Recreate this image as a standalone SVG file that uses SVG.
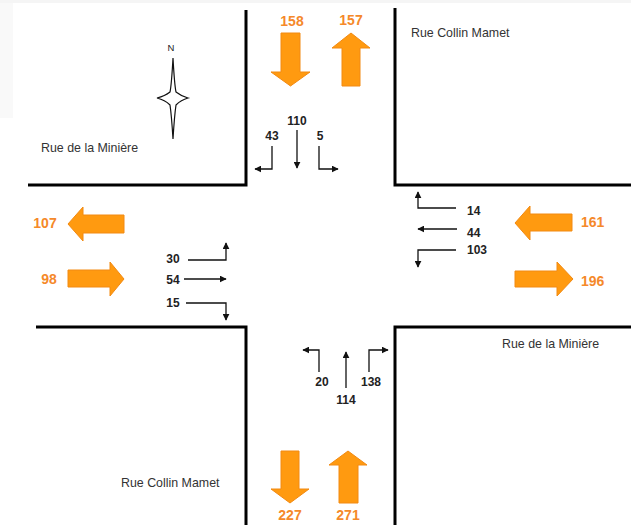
<svg xmlns="http://www.w3.org/2000/svg" width="631" height="525" viewBox="0 0 631 525">
<style>
.road{fill:none;stroke:#000;stroke-width:3}
.big{fill:#FF9A10;stroke:#F28A12;stroke-width:1}
.bl{font-family:"Liberation Sans",Arial,sans-serif;font-weight:bold;font-size:14px;fill:#F5892A}
.sl{font-family:"Liberation Sans",Arial,sans-serif;font-weight:bold;font-size:12px;fill:#222}
.st{font-family:"Liberation Sans",Arial,sans-serif;font-size:12.4px;fill:#333}
.mv{fill:none;stroke:#111;stroke-width:1.3;marker-end:url(#ah)}
</style>
<defs>
<marker id="ah" viewBox="0 0 10 10" refX="9" refY="5" markerWidth="7" markerHeight="7" orient="auto" markerUnits="userSpaceOnUse"><path d="M0,0 L10,5 L0,10 z" fill="#111"/></marker>
</defs>
<rect width="631" height="525" fill="#fff"/>
<rect x="0" y="0" width="631" height="3" fill="#f5f5f5"/>
<rect x="0" y="3" width="13" height="115" fill="#f9f9f9"/>

<g id="roads">
<path class="road" d="M246,10 V185 H28"/>
<path class="road" d="M395,8 V185 H631"/>
<path class="road" d="M36,327 H246 V525"/>
<path class="road" d="M631,327 H395 V525"/>
</g>

<g id="compass">
<text x="171" y="51" font-family="Liberation Sans,Arial,sans-serif" font-size="9.5" text-anchor="middle" fill="#222">N</text>
<path d="M173,58 Q171.5,85 170,92 Q165,96 157,98 Q165,100 170,105 Q171.5,115 173,139 Q174.5,115 176,105 Q181,100 188,98 Q181,96 176,92 Q174.5,85 173,58 Z" fill="#fff" stroke="#111" stroke-width="1.2"/>
</g>

<g id="streets">
<text class="st" x="411" y="37">Rue Collin Mamet</text>
<text class="st" x="41" y="152">Rue de la Minière</text>
<text class="st" x="502" y="348">Rue de la Minière</text>
<text class="st" x="121" y="487">Rue Collin Mamet</text>
</g>

<g id="volumes">
<polygon class="big" points="281,33 300,33 300,72 310,72 290.5,86 271,72 281,72"/>
<text class="bl" x="292" y="26" text-anchor="middle">158</text>
<polygon class="big" points="351,33 370,48 360,48 360,86 342,86 342,48 332,48"/>
<text class="bl" x="351" y="25" text-anchor="middle">157</text>
<polygon class="big" points="68,224 83,207 83,215 124,215 124,233 83,233 83,241"/>
<text class="bl" x="45" y="228" text-anchor="middle">107</text>
<polygon class="big" points="68,270 110,270 110,262 124,279 110,296 110,287 68,287"/>
<text class="bl" x="49" y="284" text-anchor="middle">98</text>
<polygon class="big" points="515,223 530,206 530,214 572,214 572,231 530,231 530,240"/>
<text class="bl" x="581" y="227">161</text>
<polygon class="big" points="515,271 557,271 557,262 573,279 557,296 557,287 515,287"/>
<text class="bl" x="581" y="286">196</text>
<polygon class="big" points="281,451 299,451 299,489 309,489 290,503 271,489 281,489"/>
<text class="bl" x="290" y="520" text-anchor="middle">227</text>
<polygon class="big" points="348,451 367,465 358,465 358,503 339,503 339,465 329,465"/>
<text class="bl" x="348" y="520" text-anchor="middle">271</text>
</g>

<g id="connectors">
<path class="mv" d="M272,146 V169 H255"/>
<path class="mv" d="M297,130 V168"/>
<path class="mv" d="M319,146 V169 H338"/>
<path class="mv" d="M188,260 H226 V243"/>
<path class="mv" d="M184,279 H226"/>
<path class="mv" d="M186,303 H226 V320"/>
<path class="mv" d="M456,208 H418 V192"/>
<path class="mv" d="M457,229 H418"/>
<path class="mv" d="M456,250 H418 V267"/>
<path class="mv" d="M319,372 V350 H303"/>
<path class="mv" d="M346,388 V352"/>
<path class="mv" d="M369,372 V350 H388"/>
</g>

<g id="movement-labels">
<text class="sl" x="297" y="125" text-anchor="middle">110</text>
<text class="sl" x="272" y="140" text-anchor="middle">43</text>
<text class="sl" x="320" y="140" text-anchor="middle">5</text>
<text class="sl" x="173" y="263" text-anchor="middle">30</text>
<text class="sl" x="173" y="284" text-anchor="middle">54</text>
<text class="sl" x="173" y="307" text-anchor="middle">15</text>
<text class="sl" x="467" y="215">14</text>
<text class="sl" x="467" y="237">44</text>
<text class="sl" x="467" y="254">103</text>
<text class="sl" x="322" y="386" text-anchor="middle">20</text>
<text class="sl" x="346" y="404" text-anchor="middle">114</text>
<text class="sl" x="371" y="386" text-anchor="middle">138</text>
</g>
</svg>
